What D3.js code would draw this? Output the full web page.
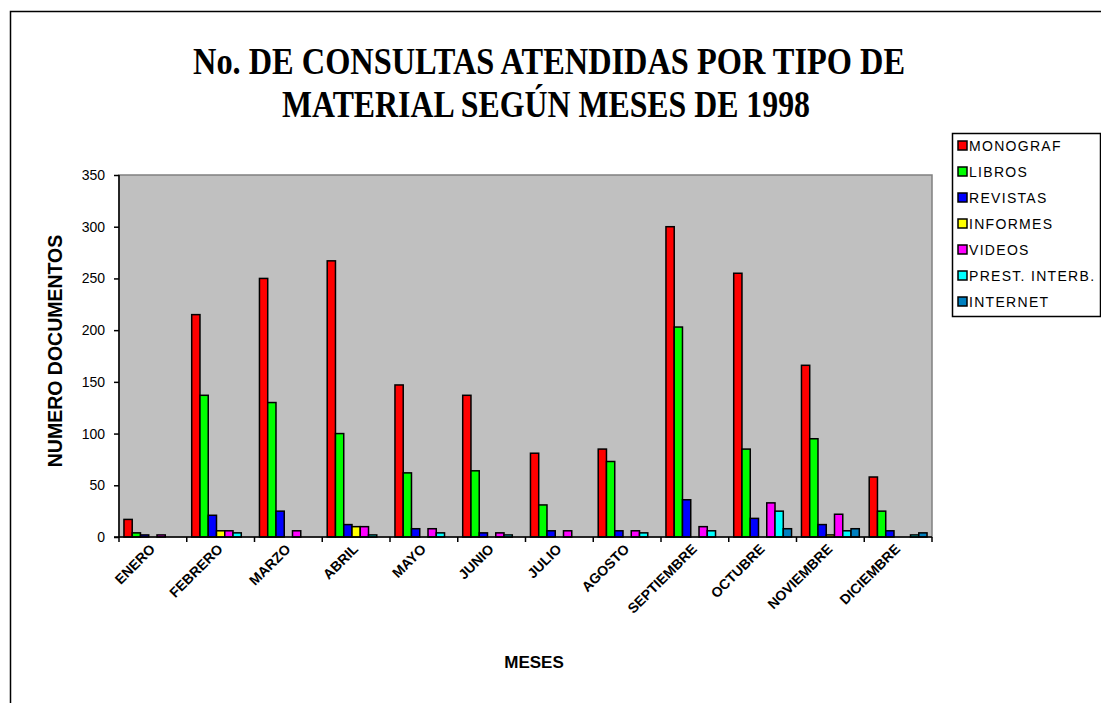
<!DOCTYPE html>
<html>
<head>
<meta charset="utf-8">
<script src="https://cdn.jsdelivr.net/npm/d3@7"></script>
<style>
  body { margin: 0; background: #fff; }
  svg { display: block; }
  text { font-family: Arial, "Liberation Sans", sans-serif; }
</style>
</head>
<body>
<div class="chart"></div>
<script>
// data
var meses = ["ENERO", "FEBRERO", "MARZO", "ABRIL", "MAYO", "JUNIO", "JULIO",
  "AGOSTO", "SEPTIEMBRE", "OCTUBRE", "NOVIEMBRE", "DICIEMBRE"];
var series = ["MONOGRAF", "LIBROS", "REVISTAS", "INFORMES", "VIDEOS", "PREST. INTERB.", "INTERNET"];
var colors = ["#ff0000", "#00ff00", "#0000ff", "#ffff00", "#ff00ff", "#00ffff", "#0080c0"];

var monograf = [17, 215, 250, 267, 147, 137, 81, 85, 300, 255, 166, 58];
var libros   = [4, 137, 130, 100, 62, 64, 31, 73, 203, 85, 95, 25];
var revistas = [2, 21, 25, 12, 8, 4, 6, 6, 36, 18, 12, 6];
var informes = [0, 6, 0, 10, 0, 0, 0, 0, 0, 0, 2, 0];
var videos   = [2, 6, 6, 10, 8, 4, 6, 6, 10, 33, 22, 0];
var prest    = [0, 4, 0, 2, 4, 2, 0, 4, 6, 25, 6, 2];
var internet = [0, 0, 0, 0, 0, 0, 0, 0, 0, 8, 8, 4];
var yTicks = [0, 50, 100, 150, 200, 250, 300, 350];

var values = [monograf, libros, revistas, informes, videos, prest, internet];

var svgWidth = 1101;
var svgHeight = 703;

var margin = { top: 175, right: 169, bottom: 166, left: 119 };
var width = svgWidth - margin.left - margin.right;   // 813
var height = svgHeight - margin.top - margin.bottom; // 362

var svg = d3.select(".chart")
  .append("svg")
  .attr("width", svgWidth)
  .attr("height", svgHeight);

// outer frame
svg.append("path")
  .attr("d", "M10.5,703 L10.5,11.5 L1101,11.5")
  .attr("fill", "none")
  .attr("stroke", "#000")
  .attr("stroke-width", 1.5);

// title
var title = svg.append("g")
  .attr("font-weight", "bold")
  .attr("font-size", 37)
  .attr("text-anchor", "middle");
title.append("text")
  .attr("x", 549).attr("y", 74)
  .attr("textLength", 712).attr("lengthAdjust", "spacingAndGlyphs")
  .style("font-family", "'Liberation Serif', 'Times New Roman', serif")
  .text("No. DE CONSULTAS ATENDIDAS  POR TIPO DE");
title.append("text")
  .attr("x", 546).attr("y", 117)
  .attr("textLength", 528).attr("lengthAdjust", "spacingAndGlyphs")
  .style("font-family", "'Liberation Serif', 'Times New Roman', serif")
  .text("MATERIAL SEGÚN MESES DE 1998");

var chartGroup = svg.append("g")
  .attr("transform", `translate(${margin.left}, ${margin.top})`);

// scales
var x0 = d3.scaleBand()
  .domain(meses)
  .range([0, width])
  .padding(0);

var x1 = d3.scaleBand()
  .domain(series)
  .range([0, x0.bandwidth()])
  .paddingInner(0)
  .paddingOuter(0.6);

var y = d3.scaleLinear()
  .domain([0, 350])
  .range([height, 0]);

// plot area
chartGroup.append("rect")
  .attr("width", width)
  .attr("height", height)
  .attr("fill", "#c0c0c0")
  .attr("stroke", "#808080")
  .attr("stroke-width", 1.5);

// bars
var groups = chartGroup.selectAll(".mes")
  .data(meses)
  .enter()
  .append("g")
  .attr("transform", d => `translate(${x0(d)}, 0)`);

groups.selectAll("rect")
  .data((m, i) => series.map((s, j) => ({ s: s, v: values[j][i], c: colors[j] })).filter(d => d.v > 0))
  .enter()
  .append("rect")
  .attr("x", d => x1(d.s))
  .attr("y", d => y(d.v))
  .attr("width", x1.bandwidth())
  .attr("height", d => height - y(d.v))
  .attr("fill", d => d.c)
  .attr("stroke", "#000")
  .attr("stroke-width", 1.5);

// axes
var leftAxis = d3.axisLeft(y).tickValues(yTicks).tickSize(5).tickPadding(9);
var bottomAxis = d3.axisBottom(x0).tickSize(0).tickFormat("");

var yAxis = chartGroup.append("g").call(leftAxis);
yAxis.select(".domain").attr("stroke-width", 1.5).attr("d", `M-5,${height}H0V0`);
yAxis.selectAll(".tick line").attr("stroke-width", 1.5);
yAxis.selectAll("text")
  .attr("font-size", 14)
  .attr("font-family", "Arial, 'Liberation Sans', sans-serif")
  .attr("fill", "#000");

var xAxis = chartGroup.append("g")
  .attr("transform", `translate(0, ${height})`)
  .call(bottomAxis);
xAxis.select(".domain").attr("stroke-width", 1.5).attr("d", `M0,0H${width}`);

// tick marks between categories
chartGroup.append("g")
  .selectAll("line")
  .data(meses.concat(["end"]))
  .enter()
  .append("line")
  .attr("x1", (d, i) => i < meses.length ? x0(d) : width)
  .attr("x2", (d, i) => i < meses.length ? x0(d) : width)
  .attr("y1", height)
  .attr("y2", height + 5)
  .attr("stroke", "#000")
  .attr("stroke-width", 1.5);

// rotated month labels
chartGroup.append("g")
  .selectAll("text")
  .data(meses)
  .enter()
  .append("text")
  .attr("transform", d => `translate(${x0(d) + x0.bandwidth() / 2 + 3}, ${height + 13}) rotate(-45)`)
  .attr("text-anchor", "end")
  .attr("font-size", 14)
  .attr("font-weight", "bold")
  .attr("fill", "#000")
  .text(d => d);

// axis titles
svg.append("text")
  .attr("transform", `translate(${62}, ${351}) rotate(-90)`)
  .attr("text-anchor", "middle")
  .attr("font-size", 19.5)
  .attr("font-weight", "bold")
  .text("NUMERO DOCUMENTOS");

svg.append("text")
  .attr("x", 534)
  .attr("y", 668)
  .attr("text-anchor", "middle")
  .attr("font-size", 17)
  .attr("font-weight", "bold")
  .text("MESES");

// legend
var legend = svg.append("g").attr("transform", "translate(952, 133)");
legend.append("rect")
  .attr("x", 0.5).attr("y", 0.5)
  .attr("width", 148).attr("height", 183)
  .attr("fill", "#fff")
  .attr("stroke", "#000")
  .attr("stroke-width", 1.5);

var items = legend.selectAll(".item")
  .data(series)
  .enter()
  .append("g")
  .attr("transform", (d, i) => `translate(6, ${13 + i * 26})`);
items.append("rect")
  .attr("x", 0).attr("y", -5)
  .attr("width", 9).attr("height", 9)
  .attr("fill", (d, i) => colors[i])
  .attr("stroke", "#000")
  .attr("stroke-width", 1.5);
items.append("text")
  .attr("x", 11)
  .attr("y", 5)
  .attr("font-size", 14)
  .attr("letter-spacing", 1.3)
  .text(d => d);
</script>
</body>
</html>
